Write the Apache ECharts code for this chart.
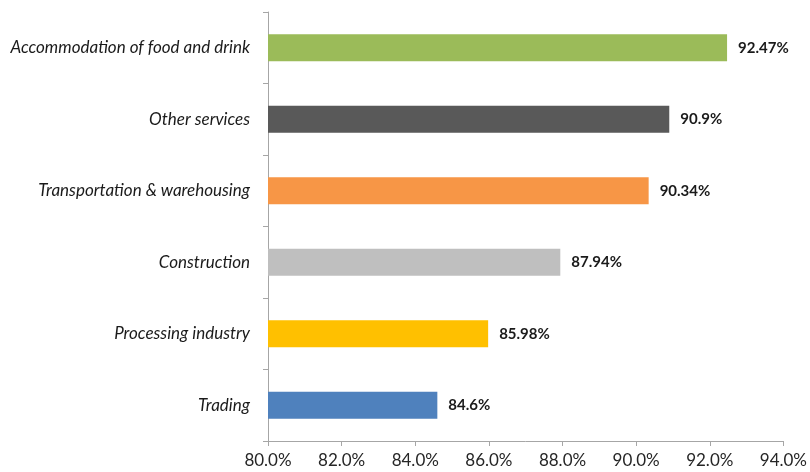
<!DOCTYPE html>
<html><head><meta charset="utf-8">
<script src="https://cdn.jsdelivr.net/npm/echarts@6/dist/echarts.min.js"></script>
<style>html,body{margin:0;padding:0;background:#fff}#c{width:810px;height:472px}</style>
</head><body><div id="c"></div>
<script>
var categories = ["Trading","Processing industry","Construction","Transportation & warehousing","Other services","Accommodation of food and drink"];
var values = [84.6, 85.98, 87.94, 90.34, 90.9, 92.47];
var labels = ["84.6%","85.98%","87.94%","90.34%","90.9%","92.47%"];
var colors = ["#4f81bd","#ffc000","#bfbfbf","#f79646","#595959","#9bbb59"];
var xTicks = [80,82,84,86,88,90,92,94];

var chart = echarts.init(document.getElementById('c'));
chart.setOption({
  animation:false,
  grid:{left:268,right:24,top:12,bottom:31,containLabel:false},
  xAxis:{type:'value',min:80,max:94,interval:2,
    axisLine:{show:true,lineStyle:{color:'#a6a6a6'}},
    axisTick:{show:true,length:5,lineStyle:{color:'#a6a6a6'}},
    splitLine:{show:false},
    axisLabel:{color:'#262626',fontFamily:'Lato',fontSize:17,margin:11,formatter:function(v){return v.toFixed(1)+'%';}}
  },
  yAxis:{type:'category',data:categories,
    axisLine:{show:true,lineStyle:{color:'#a6a6a6'}},
    axisTick:{show:true,length:5,lineStyle:{color:'#a6a6a6'}},
    axisLabel:{color:'#1a1a1a',fontFamily:'Lato',fontStyle:'italic',fontSize:17,margin:18}
  },
  series:[{type:'bar',barWidth:27,
    data:values.map(function(v,i){return {value:v,itemStyle:{color:colors[i]},label:{formatter:labels[i]}};}),
    label:{show:true,position:'right',distance:11,color:'#1a1a1a',fontFamily:'Lato',fontWeight:'bold',fontSize:15}
  }]
});
</script></body></html>
